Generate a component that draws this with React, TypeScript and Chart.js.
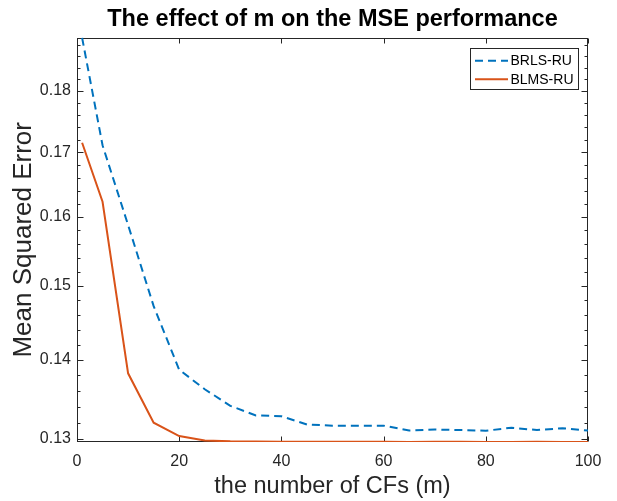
import React, { useEffect, useRef } from 'react';
import { Chart, registerables } from 'chart.js';

Chart.register(...registerables);

// ---- data ----
const mValues = [1, 5, 10, 15, 20, 25, 30, 35, 40, 45, 50, 55, 60, 65, 70, 75, 80, 85, 90, 95, 100];
const brlsRU = [0.1892, 0.1711, 0.1588, 0.1472, 0.1387, 0.1362, 0.1341, 0.1329, 0.1328, 0.13178, 0.13163, 0.13164, 0.13164, 0.13104, 0.13116, 0.1311, 0.13101, 0.13138, 0.1311, 0.13131, 0.13104];
const blmsRU = [0.1715, 0.1623, 0.13824, 0.132, 0.13036, 0.12982, 0.12972, 0.1297, 0.12966, 0.12966, 0.12968, 0.12967, 0.12966, 0.12965, 0.12966, 0.12966, 0.12965, 0.12965, 0.12967, 0.12965, 0.12964];
const seriesLabels = ['BRLS-RU', 'BLMS-RU'];
const xTickValues = [0, 20, 40, 60, 80, 100];
const yMajorTicks = [0.13, 0.14, 0.15, 0.16, 0.17, 0.18];
const yMinorTicks = [0.132, 0.134, 0.136, 0.138, 0.142, 0.144, 0.146, 0.148, 0.152, 0.154, 0.156, 0.158, 0.162, 0.164, 0.166, 0.168, 0.172, 0.174, 0.176, 0.178, 0.182, 0.184, 0.186, 0.188];
const yMin = 0.12964;
const yMax = 0.18923;

const FONT = "'Liberation Sans', Arial, Helvetica, sans-serif";
const AXIS_COLOR = '#262626';
const BLUE = '#0072BD';
const ORANGE = '#D95319';

const matlabAxes = {
  id: 'matlabAxes',
  beforeDatasetsDraw(chart: any) {
    const { ctx, chartArea: a, scales } = chart;
    const xs = scales.x;
    const ys = scales.y;
    const L = Math.round(a.left) + 0.5;
    const R = Math.round(a.right) - 0.5;
    const T = Math.round(a.top) + 0.5;
    const B = Math.round(a.bottom) - 0.5;
    ctx.save();
    ctx.strokeStyle = AXIS_COLOR;
    ctx.lineWidth = 1;
    ctx.beginPath();
    xs.ticks.forEach((t: any) => {
      const px = Math.round(xs.getPixelForValue(t.value)) + 0.5;
      ctx.moveTo(px, B);
      ctx.lineTo(px, B - 5);
      ctx.moveTo(px, T);
      ctx.lineTo(px, T + 5);
    });
    ys.ticks.forEach((t: any) => {
      const py = Math.round(ys.getPixelForValue(t.value)) + 0.5;
      const len = t.label ? 6 : 3;
      ctx.moveTo(L, py);
      ctx.lineTo(L + len, py);
      ctx.moveTo(R, py);
      ctx.lineTo(R - len, py);
    });
    ctx.stroke();
    ctx.strokeRect(L, T, R - L, B - T);
    ctx.restore();
  },
};

const boxLegend = {
  id: 'boxLegend',
  afterDraw(chart: any) {
    const { ctx } = chart;
    const bx = 470.5, by = 48.5, bw = 108, bh = 41;
    ctx.save();
    ctx.fillStyle = '#ffffff';
    ctx.fillRect(bx, by, bw, bh);
    ctx.strokeStyle = AXIS_COLOR;
    ctx.lineWidth = 1;
    ctx.strokeRect(bx, by, bw, bh);
    const rows = [60.7, 79.3];
    chart.data.datasets.forEach((ds: any, i: number) => {
      const yy = rows[i];
      ctx.beginPath();
      ctx.strokeStyle = ds.borderColor;
      ctx.lineWidth = ds.borderWidth;
      ctx.setLineDash(ds.borderDash || []);
      ctx.moveTo(475, yy);
      ctx.lineTo(508, yy);
      ctx.stroke();
      ctx.setLineDash([]);
      ctx.fillStyle = '#000000';
      ctx.font = `14px ${FONT}`;
      ctx.textBaseline = 'middle';
      ctx.textAlign = 'left';
      ctx.fillText(ds.label, 510.5, yy + 0.5);
    });
    ctx.restore();
  },
};

export default function App() {
  const ref = useRef<HTMLCanvasElement | null>(null);

  useEffect(() => {
    if (!ref.current) return;
    const chart = new Chart(ref.current, {
      type: 'line',
      data: {
        datasets: [
          {
            label: seriesLabels[0],
            data: mValues.map((m, i) => ({ x: m, y: brlsRU[i] })),
            borderColor: BLUE,
            backgroundColor: BLUE,
            borderWidth: 2,
            borderDash: [8, 5],
            pointRadius: 0,
            tension: 0,
            fill: false,
          },
          {
            label: seriesLabels[1],
            data: mValues.map((m, i) => ({ x: m, y: blmsRU[i] })),
            borderColor: ORANGE,
            backgroundColor: ORANGE,
            borderWidth: 2,
            pointRadius: 0,
            tension: 0,
            fill: false,
          },
        ],
      },
      options: {
        responsive: false,
        animation: false,
        devicePixelRatio: 1,
        layout: { padding: { left: 0, right: 29, top: 0, bottom: 0 } },
        plugins: {
          legend: { display: false },
          tooltip: { enabled: false },
          title: {
            display: true,
            text: 'The effect of m on the MSE performance',
            fullSize: false,
            color: '#000000',
            font: { family: FONT, size: 23.5, weight: 'bold', lineHeight: 1.2 },
            padding: { top: 5, bottom: 4.4 },
          },
        },
        scales: {
          x: {
            type: 'linear',
            min: 0,
            max: 100,
            afterBuildTicks: (scale: any) => {
              scale.ticks = xTickValues.map((v) => ({ value: v }));
            },
            afterFit: (scale: any) => {
              scale.height = 59;
            },
            grid: { display: false, drawTicks: false },
            border: { display: false },
            ticks: {
              autoSkip: false,
              maxRotation: 0,
              padding: 10,
              color: AXIS_COLOR,
              font: { family: FONT, size: 16 },
            },
            title: {
              display: true,
              text: 'the number of CFs (m)',
              color: AXIS_COLOR,
              font: { family: FONT, size: 23.5, lineHeight: 1.2 },
              padding: { top: 0, bottom: 0 },
            },
          },
          y: {
            type: 'logarithmic',
            min: yMin,
            max: yMax,
            afterBuildTicks: (scale: any) => {
              scale.ticks = [...yMajorTicks, ...yMinorTicks]
                .sort((p, q) => p - q)
                .map((v) => ({ value: v }));
            },
            afterFit: (scale: any) => {
              scale.width = 77;
            },
            grid: { display: false, drawTicks: false },
            border: { display: false },
            ticks: {
              autoSkip: false,
              padding: 6,
              color: AXIS_COLOR,
              font: { family: FONT, size: 16 },
              callback: (value: any) => {
                const v = Number(value);
                const major = yMajorTicks.find((m) => Math.abs(m - v) < 1e-9);
                return major !== undefined ? major.toFixed(2) : '';
              },
            },
            title: {
              display: true,
              text: 'Mean Squared Error',
              color: AXIS_COLOR,
              font: { family: FONT, size: 26, lineHeight: 1.2 },
              padding: { top: 8, bottom: 0 },
            },
          },
        },
      },
      plugins: [matlabAxes, boxLegend],
    });
    return () => chart.destroy();
  }, []);

  return (
    <div style={{ position: 'fixed', left: 0, top: 0, width: 617, height: 501, background: '#ffffff' }}>
      <canvas ref={ref} width={617} height={501} style={{ width: 617, height: 501, display: 'block' }} />
    </div>
  );
}
